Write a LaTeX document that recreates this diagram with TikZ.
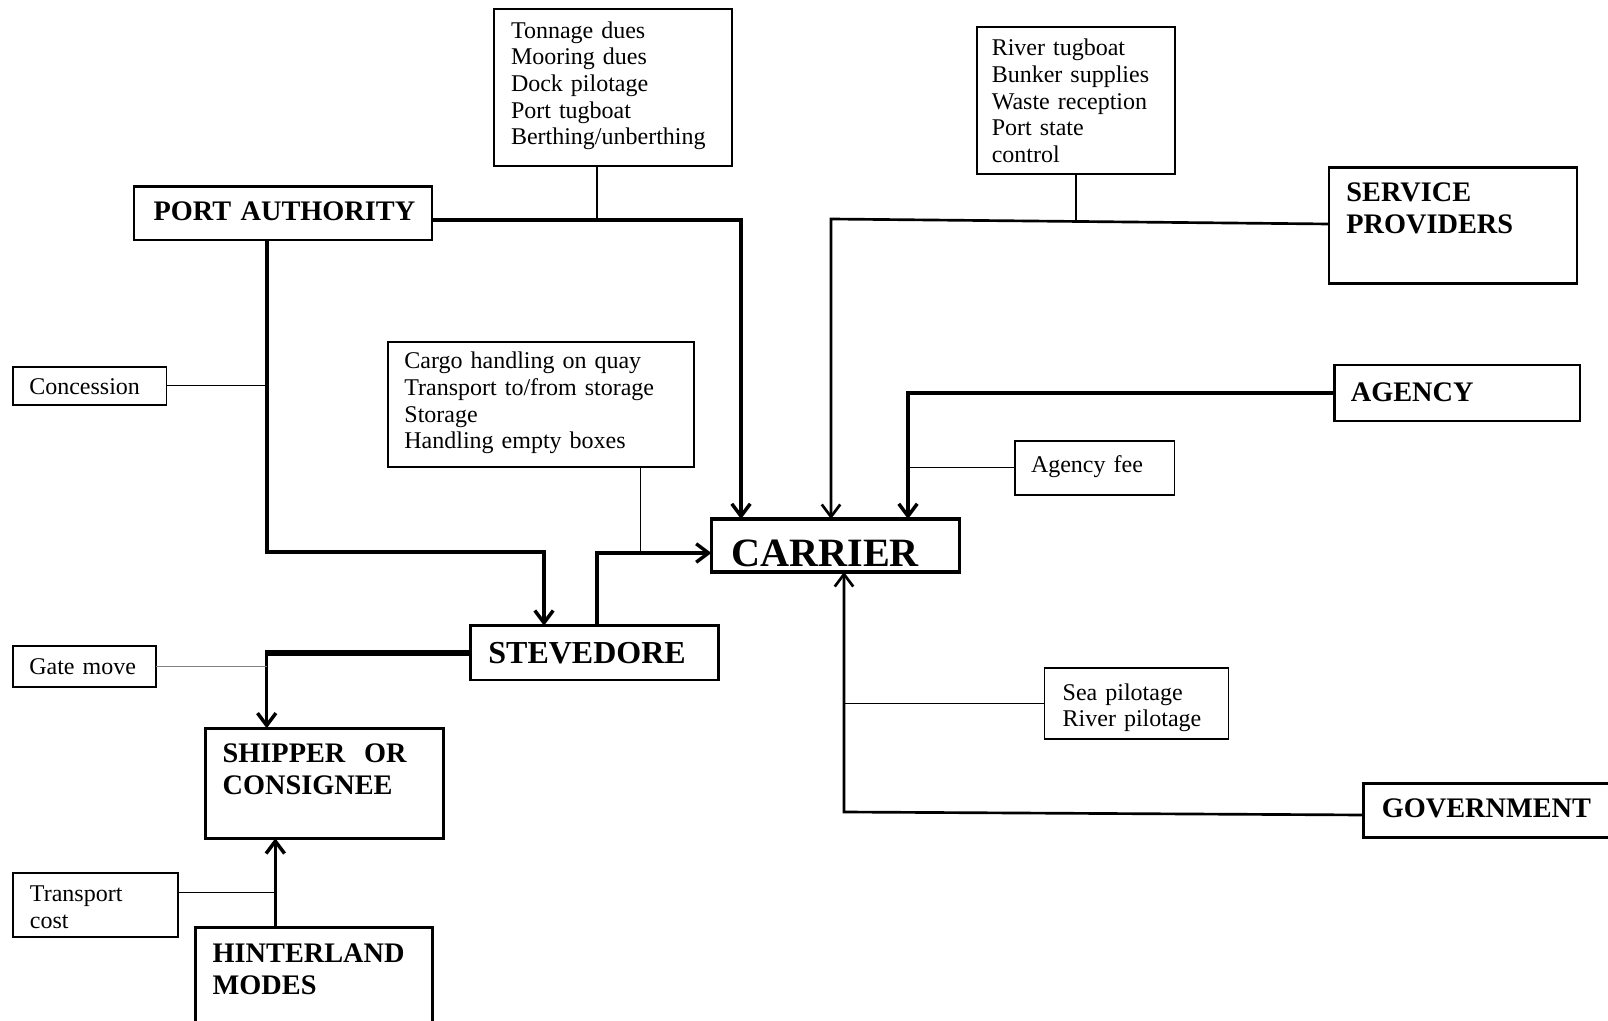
\documentclass[tikz,border=0pt]{standalone}
\usepackage{fontspec}
\setmainfont{Liberation Serif}
\usetikzlibrary{arrows.meta}
\newcommand\lsk[2]{\leftskip=#1\relax #2\par}
\begin{document}
\begin{tikzpicture}[x=0.4876pt,y=-0.4876pt,
  every node/.style={inner sep=0pt, outer sep=0pt, anchor=north west, align=left},
  small/.style={draw, line width=0.8pt, font=\fontsize{11.7}{13}\selectfont},
  big/.style={draw, line width=1.4pt, font=\fontsize{13.8}{15.6}\selectfont\bfseries},
  main/.style={line width=1.7pt},
  link/.style={line width=0.6pt},
  arr/.style={-{Straight Barb[length=6pt,width=9pt]}}]
\useasboundingbox (0,0) rectangle (1608,1021);
\clip (0,0) rectangle (1608,1021);

% boxes
\node[small, text width=116.05pt, text height=14.14pt, text depth=62.27pt] (tonnage) at (494,9.3)
  {\lsk{8.29pt}{Tonnage dues\\Mooring dues\\Dock pilotage\\Port tugboat\\Berthing/unberthing}};
\node[big, text width=145.3pt, text height=16.72pt, text depth=9.26pt] (pa) at (134,186.7)
  {\lsk{9.56pt}{PORT AUTHORITY}};
\node[small, text width=96.55pt, text height=13.99pt, text depth=57.68pt] (river) at (977,27.3)
  {\lsk{7.22pt}{River tugboat\\Bunker supplies\\Waste reception\\Port state\\control}};
\node[big, text width=120.92pt, text height=16.58pt, text depth=39.79pt] (sp) at (1329,167.7)
  {\lsk{8.48pt}{SERVICE\\PROVIDERS}};
\node[small, text width=74.75pt, text height=13.65pt, text depth=5.02pt] (conc) at (13.3,366.7)
  {\lsk{7.8pt}{Concession}};
\node[small, text width=149.06pt, text height=13.31pt, text depth=47.64pt] (cargo) at (388,341.7)
  {\lsk{8pt}{Cargo handling on quay\\Transport to/from storage\\Storage\\Handling empty boxes}};
\node[big, text width=119.56pt, text height=17.9pt, text depth=9.41pt] (agency) at (1334.8,365)
  {\lsk{7.8pt}{AGENCY}};
\node[small, text width=77.72pt, text height=15.36pt, text depth=10.82pt] (afee) at (1015,441)
  {\lsk{7.8pt}{Agency fee}};
\node[big, line width=1.6pt, font=\fontsize{19.6}{22}\selectfont\bfseries, text width=120.92pt, text height=22.92pt, text depth=2.93pt] (carrier) at (711.4,519)
  {\lsk{9.75pt}{CARRIER}};
\node[big, font=\fontsize{15.6}{18}\selectfont\bfseries, text width=120.83pt, text height=18.33pt, text depth=8.14pt] (stev) at (470.5,625.7)
  {\lsk{8.73pt}{STEVEDORE}};
\node[small, text width=69.43pt, text height=13.9pt, text depth=5.95pt] (gate) at (13.3,646)
  {\lsk{7.8pt}{Gate move}};
\node[big, text width=115.85pt, text height=16.77pt, text depth=36.86pt] (shipper) at (205.7,728.3)
  {\lsk{8.29pt}{SHIPPER\ \ OR\\CONSIGNEE}};
\node[small, text width=89.67pt, text height=15.75pt, text depth=19.16pt] (seapil) at (1044.6,667.7)
  {\lsk{8.83pt}{Sea pilotage\\River pilotage}};
\node[big, text width=124.83pt, text height=16.68pt, text depth=9.65pt] (gov) at (1363.7,783.3)
  {\lsk{8.83pt}{GOVERNMENT}};
\node[small, text width=80.16pt, text height=14.04pt, text depth=17.46pt] (trans) at (13.3,872.7)
  {\lsk{8.14pt}{Transport\\cost}};
\node[big, text width=115.37pt, text height=17.07pt, text depth=33.01pt] (hint) at (195.7,927.3)
  {\lsk{8.29pt}{HINTERLAND\\MODES}};

% connectors
\draw[main, arr] (pa.east |- 0,220) -- (741,220) -- (741,0 |- carrier.north);
\draw[link] (tonnage.south -| 597,0) -- (597,220);
\draw[main, arr] (pa.south -| 267,0) -- (267,552) -- (544,552) -- (544,0 |- stev.north);
\draw[link] (conc.east) -- (conc.east -| 267,0);
\draw[main, arr] (597,0 |- stev.north) -- (597,553) -- (carrier.west |- 0,553);
\draw[link] (cargo.south -| 640.4,0) -- (640.4,553);
\draw[line width=1.3pt, arr] (sp.west |- 0,224) -- (831,219) -- (831,0 |- carrier.north);
\draw[link] (river.south) -- (river.south |- 0,220.5);
\draw[main, arr] (agency.west) -- (908,0 |- agency.west) -- (908,0 |- carrier.north);
\draw[link] (afee.west) -- (afee.west -| 908,0);
\draw[line width=1.3pt, arr] (gov.west |- 0,815) -- (844,812) -- (844,0 |- carrier.south);
\draw[link] (seapil.west) -- (seapil.west -| 844,0);
\draw[line width=2.6pt] (stev.west) -- (stev.west -| 265,0);
\draw[main, arr] (266.7,650) -- (266.7,0 |- shipper.north);
\draw[link, gray] (gate.east) -- (gate.east -| 266.7,0);
\draw[main, arr] (275.3,0 |- hint.north) -- (275.3,0 |- shipper.south);
\draw[link] (trans.east |- 0,892.7) -- (275.3,892.7);
\end{tikzpicture}
\end{document}
